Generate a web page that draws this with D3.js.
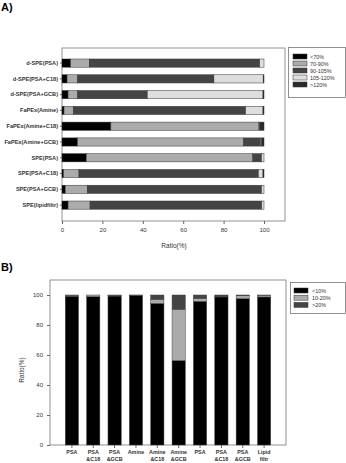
<!DOCTYPE html>
<html>
<head>
<meta charset="utf-8">
<script src="https://cdn.jsdelivr.net/npm/d3@7"></script>
<style>
  body { margin: 0; background: #fff; }
  svg { display: block; font-family: "Liberation Sans", Arial, sans-serif; }
  .axis text { fill: #333; }
  .axis path, .axis line { stroke: #666; }
</style>
</head>
<body>
<div id="chart"></div>
<script>
// panel A data
var methodsA = ["d-SPE(PSA)", "d-SPE(PSA+C18)", "d-SPE(PSA+GCB)", "FaPEx(Amine)", "FaPEx(Amine+C18)",
  "FaPEx(Amine+GCB)", "SPE(PSA)", "SPE(PSA+C18)", "SPE(PSA+GCB)", "SPE(lipidfiltr)"];
var rangesA = ["<70%", "70-90%", "90-105%", "105-120%", ">120%"];
var below70 = [4.3, 2.5, 3.0, 1.0, 24.2, 7.7, 12.0, 0.8, 1.6, 3.0];
var r70to90 = [9.2, 5.3, 4.8, 4.6, 73.3, 82.2, 82.5, 7.6, 10.9, 10.9];
var r90to105 = [84.4, 67.4, 34.4, 85.3, 0, 8.4, 4.3, 88.8, 86.3, 85.0];
var r105to120 = [2.1, 24.4, 57.3, 8.6, 0.4, 0.5, 1.2, 2.3, 1.2, 1.1];
var above120 = [0, 0.4, 0.5, 0.5, 2.1, 1.2, 0, 0.5, 0, 0];
var ticksA = [0, 20, 40, 60, 80, 100];

// panel B data
var methodsB = [["PSA"], ["PSA", "&C18"], ["PSA", "&GCB"], ["Amine"], ["Amine", "&C18"],
  ["Amine", "&GCB"], ["PSA"], ["PSA", "&C18"], ["PSA", "&GCB"], ["Lipid", "filtr"]];
var rangesB = ["<10%", "10-20%", ">20%"];
var below10 = [99.2, 98.9, 99.3, 99.8, 94.4, 56.3, 95.8, 98.7, 97.5, 98.7];
var r10to20 = [0.6, 1.1, 0.5, 0.1, 2.7, 34.2, 1.8, 0.2, 2.0, 1.1];
var above20 = [0.2, 0, 0.2, 0.1, 2.9, 9.5, 2.4, 1.1, 0.5, 0.2];
var ticksB = [0, 20, 40, 60, 80, 100];

var colorsA = ["#000000", "#ababab", "#444444", "#dedede", "#2a2a2a"];
var colorsB = ["#000000", "#ababab", "#444444"];

var svg = d3.select("#chart").append("svg")
  .attr("width", 346)
  .attr("height", 463);

svg.append("text").attr("x", 1).attr("y", 11)
  .attr("font-size", 11).attr("font-weight", "bold").text("A)");
svg.append("text").attr("x", 1).attr("y", 271)
  .attr("font-size", 11).attr("font-weight", "bold").text("B)");

// ---------- panel A: horizontal stacked bars ----------
var rowsA = methodsA.map(function (m, i) {
  return { name: m, v: [below70[i], r70to90[i], r90to105[i], r105to120[i], above120[i]] };
});

var xA = d3.scaleLinear().domain([0, 110]).range([62, 284.2]);
var yA = d3.scaleBand().domain(methodsA).range([55.2, 213]).paddingInner(0.48).paddingOuter(0.24);

// plot frame
svg.append("rect")
  .attr("x", 62).attr("y", 48).attr("width", 223).attr("height", 173)
  .attr("fill", "none").attr("stroke", "#777").attr("stroke-width", 0.8);

var gA = svg.append("g");
rowsA.forEach(function (row) {
  var acc = 0;
  row.v.forEach(function (val, k) {
    gA.append("rect")
      .attr("x", xA(acc))
      .attr("y", yA(row.name))
      .attr("width", Math.max(0, xA(acc + val) - xA(acc)))
      .attr("height", yA.bandwidth())
      .attr("fill", colorsA[k])
      .attr("stroke", "#333")
      .attr("stroke-width", 0.5);
    acc += val;
  });
});

var axA = svg.append("g").attr("class", "axis")
  .attr("transform", "translate(0,221)")
  .call(d3.axisBottom(xA).tickValues(ticksA).tickSize(3).tickPadding(4));
axA.select(".domain").remove();
axA.selectAll("text").attr("font-size", 6);

var ayA = svg.append("g").attr("class", "axis")
  .attr("transform", "translate(62,0)")
  .call(d3.axisLeft(yA).tickSize(2).tickPadding(2));
ayA.select(".domain").remove();
ayA.selectAll("text").attr("font-size", 5.6).attr("font-weight", "bold").attr("fill", "#222");

svg.append("text").attr("x", 174).attr("y", 248)
  .attr("text-anchor", "middle").attr("font-size", 6.5).attr("fill", "#333").text("Ratio(%)");

// legend A
var legA = svg.append("g");
legA.append("rect").attr("x", 288.5).attr("y", 47.5).attr("width", 57).attr("height", 50)
  .attr("fill", "#fff").attr("stroke", "#777").attr("stroke-width", 0.8);
rangesA.forEach(function (r, k) {
  var yy = 54 + k * 7;
  legA.append("rect").attr("x", 293).attr("y", yy).attr("width", 14).attr("height", 5)
    .attr("fill", colorsA[k]).attr("stroke", "#333").attr("stroke-width", 0.5);
  legA.append("text").attr("x", 310).attr("y", yy + 4.6)
    .attr("font-size", 5.4).attr("fill", "#333").text(r);
});

// ---------- panel B: vertical stacked bars ----------
var xB = d3.scaleBand().domain(d3.range(methodsB.length)).range([61, 275]).paddingInner(0.38).paddingOuter(0.2);
var yB = d3.scaleLinear().domain([0, 110]).range([445, 280]);

svg.append("rect")
  .attr("x", 50).attr("y", 280).attr("width", 236).attr("height", 165)
  .attr("fill", "none").attr("stroke", "#777").attr("stroke-width", 0.8);

var gB = svg.append("g");
methodsB.forEach(function (m, i) {
  var vals = [below10[i], r10to20[i], above20[i]];
  var acc = 0;
  vals.forEach(function (val, k) {
    gB.append("rect")
      .attr("x", xB(i))
      .attr("y", yB(acc + val))
      .attr("width", xB.bandwidth())
      .attr("height", Math.max(0, yB(acc) - yB(acc + val)))
      .attr("fill", colorsB[k])
      .attr("stroke", "#444")
      .attr("stroke-width", 0.5);
    acc += val;
  });
});

var ayB = svg.append("g").attr("class", "axis")
  .attr("transform", "translate(50,0)")
  .call(d3.axisLeft(yB).tickValues(ticksB).tickSize(3).tickPadding(4));
ayB.select(".domain").remove();
ayB.selectAll("text").attr("font-size", 6);

var axB = svg.append("g").attr("class", "axis")
  .attr("transform", "translate(0,445)")
  .call(d3.axisBottom(xB).tickSize(3).tickFormat(""));
axB.select(".domain").remove();
axB.selectAll(".tick").each(function (d) {
  var t = d3.select(this).append("text")
    .attr("y", 9).attr("font-size", 5.4).attr("font-weight", "bold")
    .attr("text-anchor", "middle").attr("fill", "#222");
  methodsB[d].forEach(function (line, j) {
    t.append("tspan").attr("x", 0).attr("dy", j === 0 ? 0 : 7).text(line);
  });
});

svg.append("text")
  .attr("transform", "translate(24,370) rotate(-90)")
  .attr("text-anchor", "middle").attr("font-size", 6.5).attr("fill", "#333").text("Ratio(%)");

// legend B
var legB = svg.append("g");
legB.append("rect").attr("x", 290.5).attr("y", 282.5).attr("width", 55).attr("height", 31)
  .attr("fill", "#fff").attr("stroke", "#777").attr("stroke-width", 0.8);
rangesB.forEach(function (r, k) {
  var yy = 288 + k * 7.2;
  legB.append("rect").attr("x", 294).attr("y", yy).attr("width", 14).attr("height", 5)
    .attr("fill", colorsB[k]).attr("stroke", "#333").attr("stroke-width", 0.5);
  legB.append("text").attr("x", 312).attr("y", yy + 4.6)
    .attr("font-size", 5.4).attr("fill", "#333").text(r);
});
</script>
</body>
</html>
